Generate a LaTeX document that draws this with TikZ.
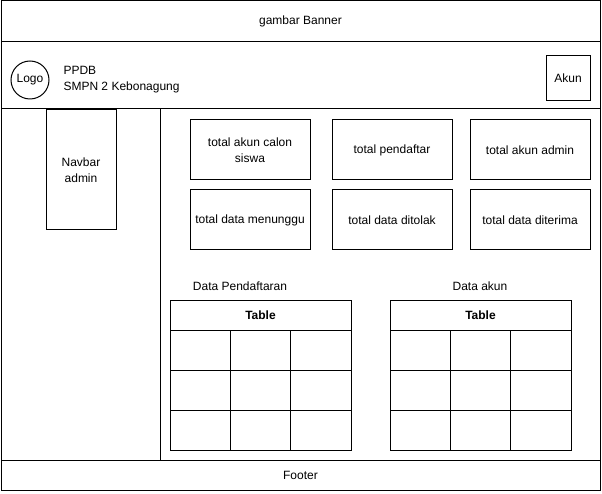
\documentclass[tikz,border=0pt]{standalone}
\usepackage{fontspec}
\setmainfont{Liberation Sans}
\usetikzlibrary{positioning}
\tikzset{every path/.style={black,line width=1pt}, every node/.style={inner sep=2pt, align=center, font=\fontsize{12}{16}\selectfont}}
\tikzset{box/.style={draw, rectangle}, stat/.style={box, minimum width=120pt, minimum height=60pt}}

\begin{document}
\begin{tikzpicture}[x=1pt,y=-1pt]
  \useasboundingbox (0,0) rectangle (602,494);
  % page frame
  \node[box, minimum width=599pt, minimum height=41pt] (banner) at (300.5,21.5) {gambar Banner};
  \node[box, minimum width=599pt, minimum height=67pt] (header) at (300.5,75.5) {};
  \node[draw, circle, minimum size=38pt, inner sep=0pt] (logo) at (30,80) {Logo};
  \node[anchor=west, align=left, inner sep=0pt] (title) at (63,80) {PPDB\\SMPN 2 Kebonagung};
  \node[box, minimum width=44pt, minimum height=45pt] (akun) at (568,78.5) {Akun};
  \node[box, minimum width=159pt, minimum height=351pt] (side) at (80.5,284.5) {};
  \node[box, minimum width=70pt, minimum height=120pt] (navbar) at (81,170) {Navbar\\admin};
  \node[box, minimum width=599pt, minimum height=30pt] (footer) at (300.5,475) {Footer};
  \draw (header.south east) -- (footer.north east);
  % stats
  \node[stat] (akuncalon) at (250,150) {total akun calon\\siswa};
  \node[stat] (pendaftar) at (392,150) {total pendaftar};
  \node[stat] (akunadmin) at (530,150) {total akun admin};
  \node[stat] (menunggu) at (250,220) {total data menunggu};
  \node[stat] (ditolak) at (392,220) {total data ditolak};
  \node[stat] (diterima) at (530,220) {total data diterima};
  % tables
  \node (datapend) at (240,286) {Data Pendaftaran};
  \node (dataakun) at (480,286) {Data akun};
  \foreach \x/\name in {170/pend, 390/akn} {
    \node[box, minimum width=181pt, minimum height=30pt, font=\fontsize{12}{16}\selectfont\bfseries] (tbl\name) at (\x+90.5,315) {Table};
    \draw (\x,330) rectangle (\x+181,450);
    \draw (\x+60.3,330) -- (\x+60.3,450) (\x+120.7,330) -- (\x+120.7,450);
    \draw (\x,370) -- (\x+181,370) (\x,410) -- (\x+181,410);
  }
\end{tikzpicture}
\end{document}
